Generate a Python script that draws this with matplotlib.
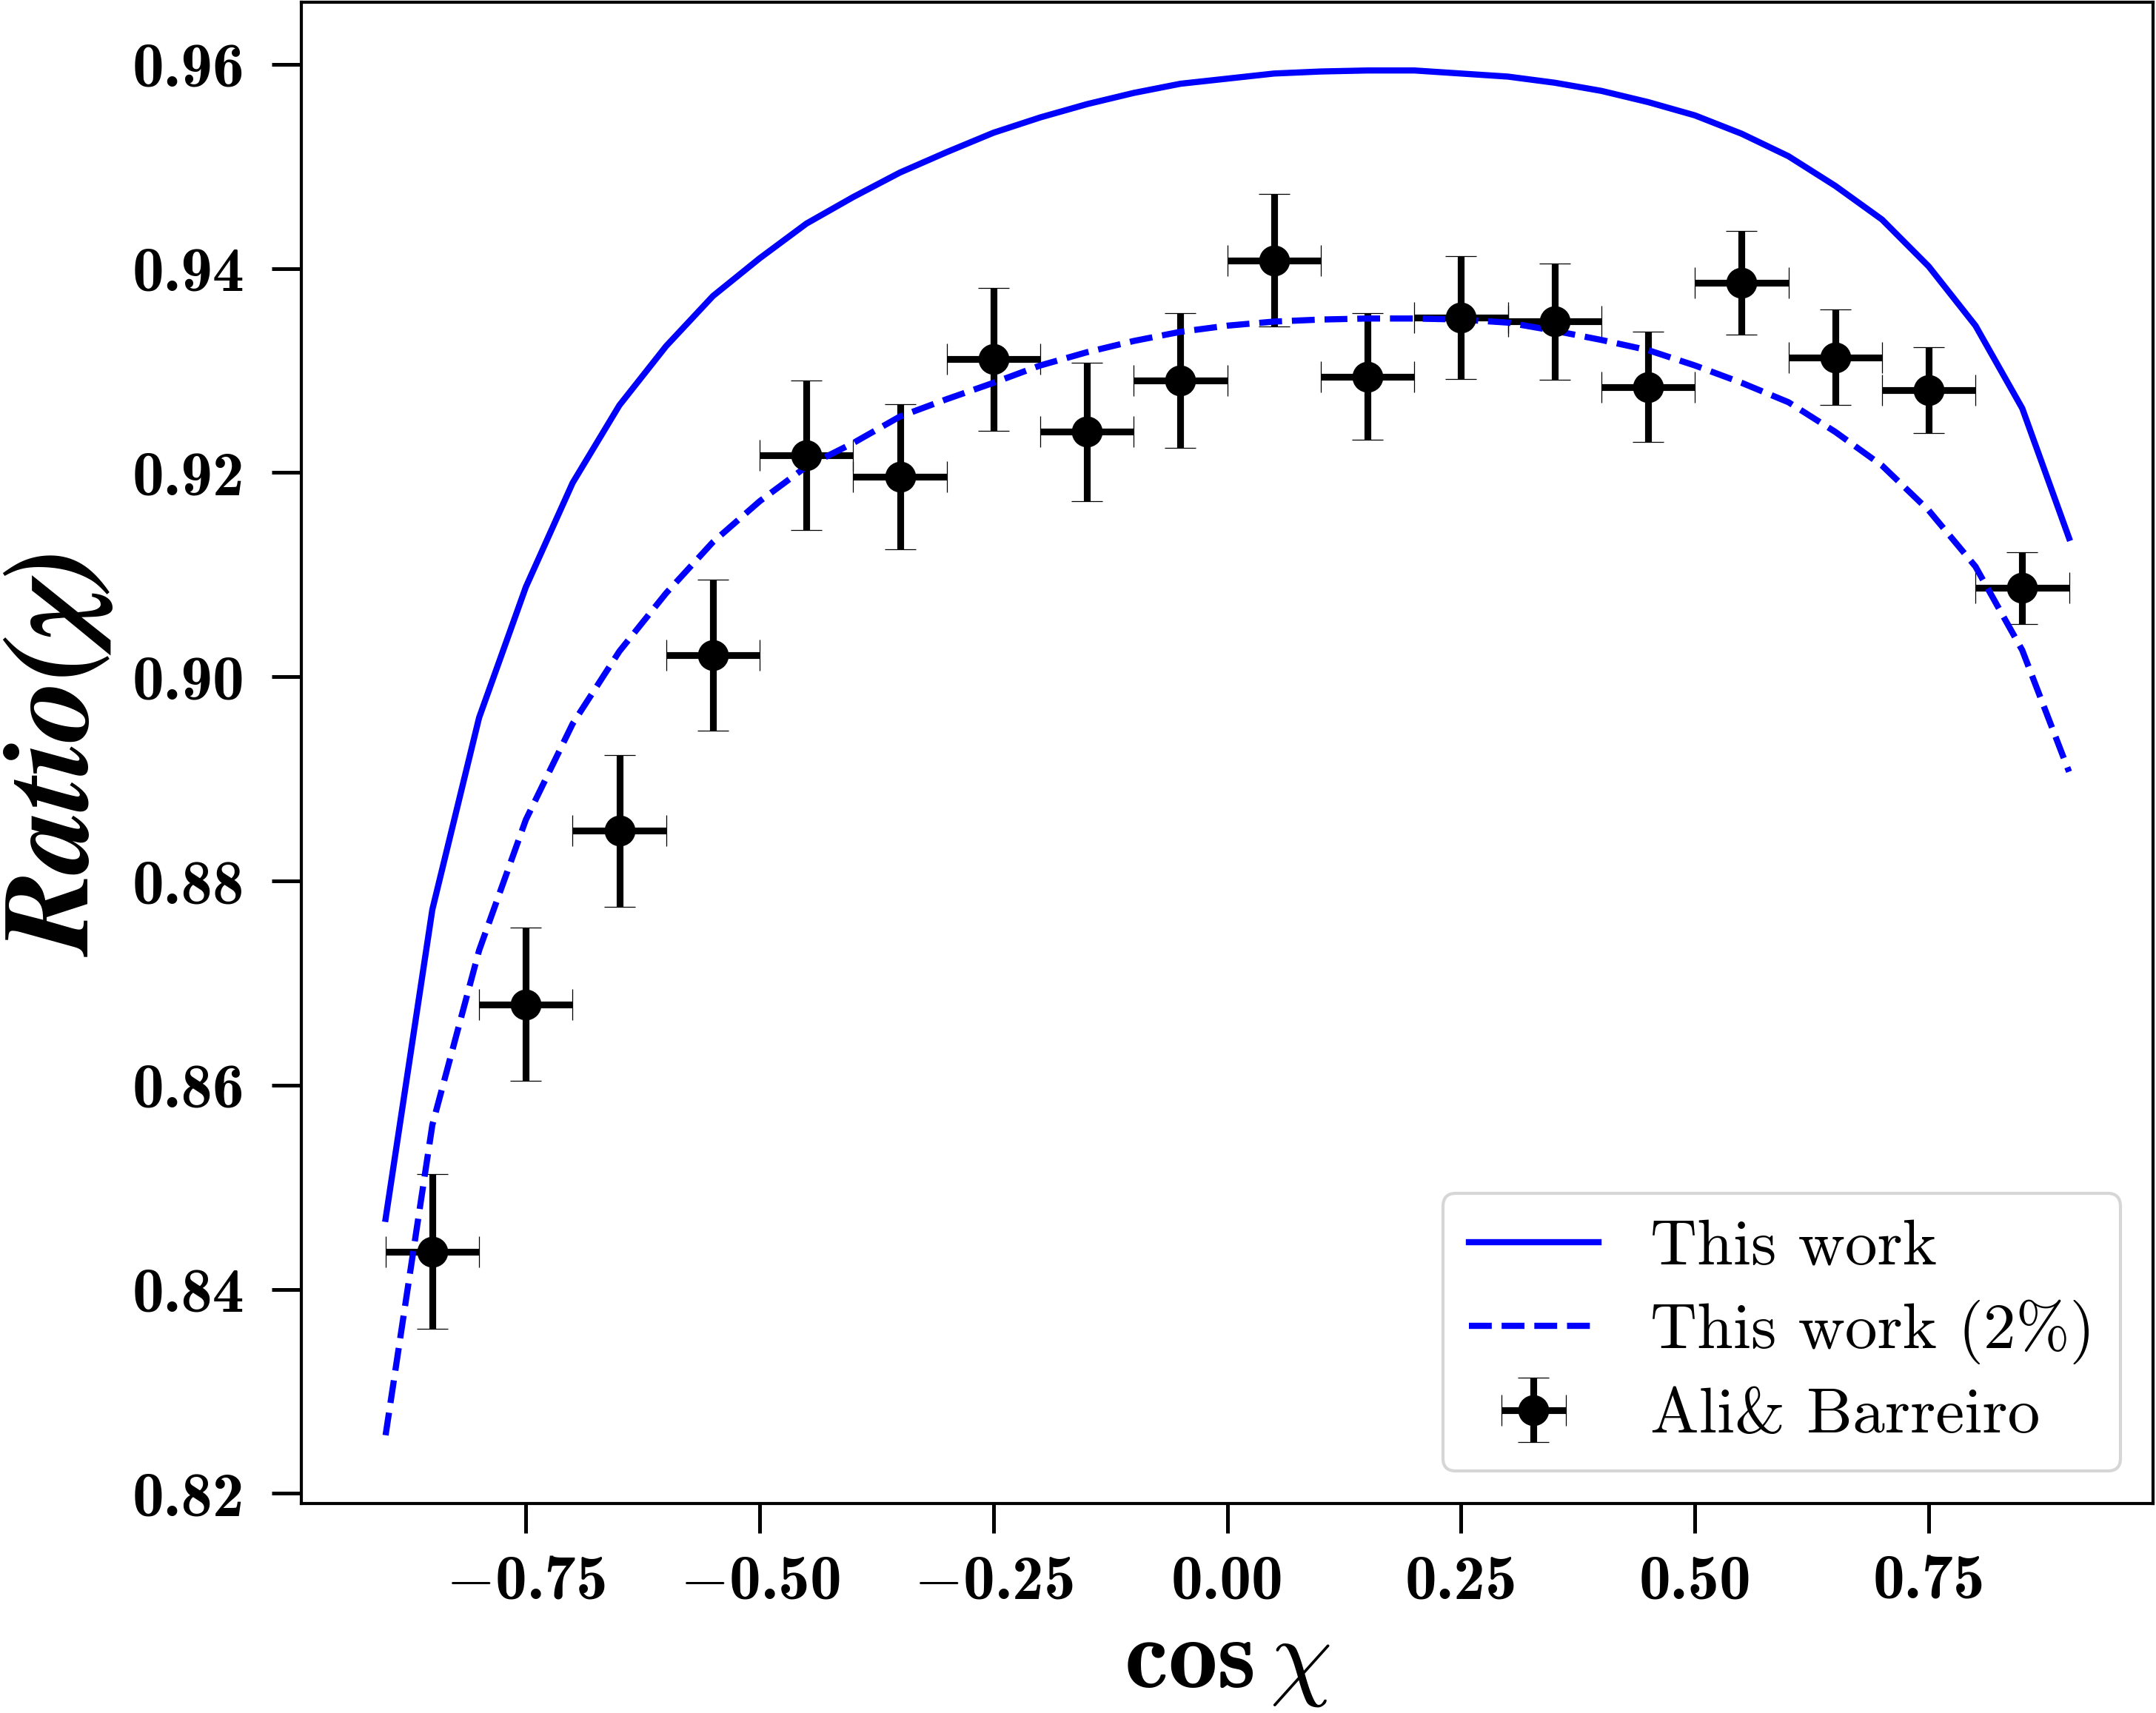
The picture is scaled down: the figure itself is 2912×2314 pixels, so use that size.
import matplotlib
matplotlib.use('Agg')
import matplotlib.pyplot as plt
from matplotlib.ticker import FuncFormatter

# Ali & Barreiro data points
x_data = [-0.85, -0.75, -0.65, -0.55, -0.45, -0.35, -0.25, -0.15, -0.05,
          0.05, 0.15, 0.25, 0.35, 0.45, 0.55, 0.65, 0.75, 0.85]
y_data = [0.8437, 0.8679, 0.8849, 0.9021, 0.9217, 0.9196, 0.9311, 0.9240, 0.9290,
          0.9408, 0.9294, 0.9352, 0.9348, 0.9284, 0.9386, 0.9313, 0.9281, 0.9087]
y_err = [0.0076, 0.0075, 0.0074, 0.0074, 0.0073, 0.0071, 0.0070, 0.0068, 0.0066,
         0.0065, 0.0062, 0.0060, 0.0057, 0.0054, 0.0051, 0.0047, 0.0042, 0.0035]
x_err = [0.05] * len(x_data)

# model curves ("This work" and "This work (2%)")
x_curve = [-0.9, -0.85, -0.8, -0.75, -0.7, -0.65, -0.6, -0.55, -0.5, -0.45,
           -0.4, -0.35, -0.3, -0.25, -0.2, -0.15, -0.1, -0.05, 0.0, 0.05,
           0.1, 0.15, 0.2, 0.25, 0.3, 0.35, 0.4, 0.45, 0.5, 0.55,
           0.6, 0.65, 0.7, 0.75, 0.8, 0.85, 0.9]
y_work = [0.8469, 0.8772, 0.8960, 0.9088, 0.9190, 0.9266, 0.9324, 0.9373, 0.9410, 0.9444,
          0.9470, 0.9494, 0.9514, 0.9533, 0.9548, 0.9561, 0.9572, 0.9581, 0.9586, 0.9591,
          0.9593, 0.9594, 0.9594, 0.9591, 0.9588, 0.9582, 0.9574, 0.9563, 0.9550, 0.9532,
          0.9510, 0.9481, 0.9448, 0.9402, 0.9344, 0.9263, 0.9136]
y_work2 = [0.8257, 0.8561, 0.8732, 0.8860, 0.8954, 0.9025, 0.9082, 0.9132, 0.9172, 0.9206,
           0.9229, 0.9255, 0.9272, 0.9288, 0.9305, 0.9318, 0.9329, 0.9338, 0.9344, 0.9348,
           0.9350, 0.9351, 0.9351, 0.9350, 0.9347, 0.9339, 0.9330, 0.9320, 0.9305, 0.9288,
           0.9269, 0.9240, 0.9207, 0.9163, 0.9108, 0.9026, 0.8907]

plt.rcParams['font.family'] = 'cmb10'
plt.rcParams['mathtext.fontset'] = 'cm'

fig = plt.figure(figsize=(2912 / 300, 2314 / 300), dpi=300)
ax = fig.add_axes([0.1398, 0.1223, 0.8589, 0.8764])

eb = ax.errorbar(x_data, y_data, xerr=x_err, yerr=y_err, fmt='o', color='k', ecolor='k',
                 ms=9, elinewidth=2.2, capsize=5, capthick=0.3, label='Ali& Barreiro')
# the caps show up as faint grey ticks in the original
for cap in eb[1]:
    cap.set_color('0.65')
ax.plot(x_curve, y_work, color='b', lw=2, label='This work')
ax.plot(x_curve, y_work2, color='b', lw=2, ls='--', label='This work (2%)')


def fmt(v, pos):
    s = '%.2f' % abs(v)
    if v < -1e-9:
        s = '$-$' + s
    return s


ax.xaxis.set_major_formatter(FuncFormatter(fmt))
ax.yaxis.set_major_formatter(FuncFormatter(fmt))
ax.tick_params(length=9.5, width=1.2, labelsize=20.5)
ax.tick_params(axis='x', pad=7)
ax.tick_params(axis='y', pad=9)
for sp in ax.spines.values():
    sp.set_linewidth(1.0)

ax.set_xlabel(r'$\mathbf{cos}\,\chi$', fontsize=32, labelpad=3)
ax.set_ylabel('Ratio(χ)', fontsize=40, family='STIXGeneral', style='italic',
              weight='bold', labelpad=5)

ax.legend(loc='lower right', prop={'family': 'cmr10', 'size': 21}, labelspacing=0.35)

fig.savefig('out.png', dpi=300)
